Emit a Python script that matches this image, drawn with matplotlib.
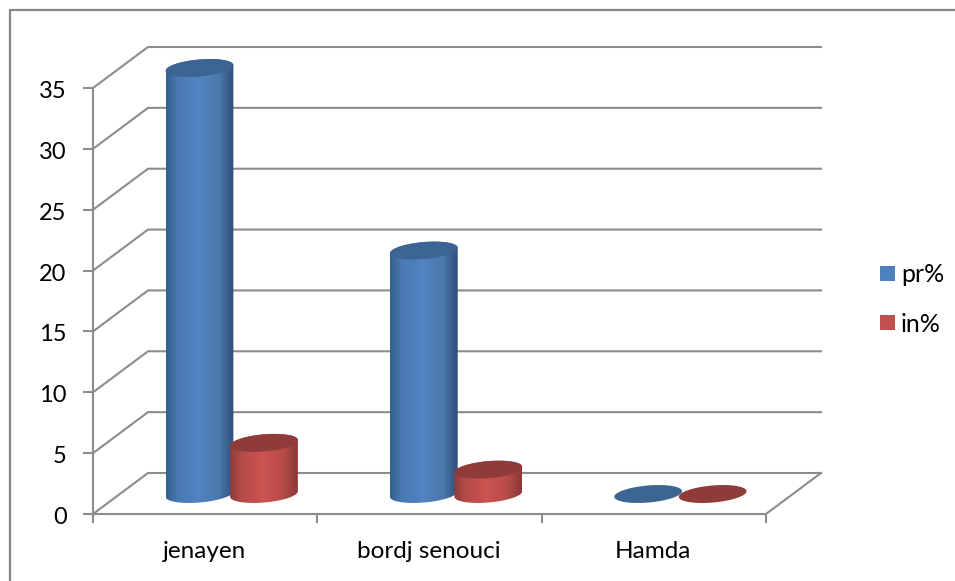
import numpy as np
import matplotlib
matplotlib.use("Agg")
import matplotlib.pyplot as plt
from matplotlib.patches import Polygon, Rectangle

plt.rcParams['font.family'] = ['Lato', 'DejaVu Sans']

categories = ["jenayen", "bordj senouci", "Hamda"]
pr_values = [35, 20, 0]
in_values = [4.2, 2, 0]
y_ticks = [0, 5, 10, 15, 20, 25, 30, 35]
legend_labels = ["pr%", "in%"]

BLUE = ['#35608f', '#4a79b2', '#5184c1', '#4a79ad', '#2d5078']
BLUE_TOP = '#3c6593'
RED = ['#8e3c3a', '#b44b48', '#cc5451', '#b84c49', '#8a3937']
RED_TOP = '#8f3b39'
GRID = '#8c8c8c'
TEXT = '#000000'

# floor corner and depth offset of the 3D box, in pixels
X0, Y0 = 93, 514
DX, DY = 55, -41
BOX_W = 673
PX_PER_UNIT = 426 / 35
BASE_Y = 494


def val_y(v):
    return Y0 - v * PX_PER_UNIT


def ellipse(cx, cy, a=34, b=8.5, tilt=5, n=120):
    t = np.linspace(0, 2 * np.pi, n, endpoint=False)
    th = np.radians(tilt)
    x = cx + a * np.cos(t) * np.cos(th) - b * np.sin(t) * np.sin(th)
    y = cy - a * np.cos(t) * np.sin(th) - b * np.sin(t) * np.cos(th)
    return np.column_stack([x, y])


def cylinder(ax, cx, value, side_colors, top_color, z):
    height = value * PX_PER_UNIT
    bottom = ellipse(cx, BASE_Y)
    top = ellipse(cx, BASE_Y - height)

    if height > 0:
        # body outline: lower half of the base, upper half of the cap
        i_l, i_r = bottom[:, 0].argmin(), bottom[:, 0].argmax()
        idx = np.arange(len(bottom))
        lower = bottom[np.roll(idx, -i_l)][: (i_r - i_l) % len(bottom) + 1]
        upper = top[np.roll(idx, -i_r)][: (i_l - i_r) % len(top) + 1]
        outline = np.vstack([lower, upper])
        body = Polygon(outline, closed=True, fc='none', ec='none', zorder=z)
        ax.add_patch(body)

        stops = [0, 0.17, 0.47, 0.78, 1]
        cmap = matplotlib.colors.LinearSegmentedColormap.from_list('side', list(zip(stops, side_colors)))
        x_lo, x_hi = outline[:, 0].min(), outline[:, 0].max()
        y_lo, y_hi = outline[:, 1].min(), outline[:, 1].max()
        im = ax.imshow(np.linspace(0, 1, 128)[None, :], cmap=cmap, aspect='auto',
                       extent=(x_lo, x_hi, y_hi, y_lo), zorder=z, interpolation='bilinear')
        im.set_clip_path(body)

    ax.add_patch(Polygon(top, closed=True, fc=top_color, ec='none', zorder=z + 0.1))


fig = plt.figure(figsize=(9.55, 5.81), dpi=100, facecolor='white')
ax = fig.add_axes([0, 0, 1, 1])

# chart frame, only top and left sit inside the image
ax.plot([9.5, 9.5, 955], [581, 10, 10], color='#868686', lw=1.6, zorder=1)

# gridlines on the back wall and the side wall
for v in y_ticks:
    y = val_y(v)
    ax.plot([X0 - 9, X0], [y, y], color=GRID, lw=1.5, zorder=2)
    ax.plot([X0, X0 + DX, X0 + DX + BOX_W], [y, y + DY, y + DY], color=GRID, lw=1.5, zorder=2)
    ax.text(66.5, y + 1.5, str(v), fontsize=17, color=TEXT, ha='right', va='center_baseline')
ax.plot([X0, X0], [val_y(0), val_y(35)], color=GRID, lw=1.5, zorder=2)

# floor edges and category ticks
ax.plot([X0, X0 + BOX_W, X0 + BOX_W + DX], [Y0, Y0, Y0 + DY], color=GRID, lw=1.5, zorder=2)
step = BOX_W / len(categories)
for i in range(len(categories) + 1):
    x = X0 + i * step
    ax.plot([x, x], [Y0, Y0 + 8], color=GRID, lw=1.5, zorder=2)

for i, name in enumerate(categories):
    ax.text(X0 + (i + 0.5) * step - 0.5, 550, name, fontsize=17.5, color=TEXT,
            ha='center', va='center_baseline')
    c = 199.5 + i * step
    cylinder(ax, c, pr_values[i], BLUE, BLUE_TOP, 3 + i)
    cylinder(ax, c + 64.5, in_values[i], RED, RED_TOP, 3.5 + i)

# legend
for label, color, y in zip(legend_labels, [BLUE[2], RED[2]], [273.5, 322.5]):
    ax.add_patch(Rectangle((880, y - 7.5), 15, 15, fc='#4f81bd' if label == 'pr%' else '#c0504d', ec='none', zorder=3))
    ax.text(901, y - 0.5, label, fontsize=18, color=TEXT, ha='left', va='center_baseline')

ax.set_xlim(0, 955)
ax.set_ylim(581, 0)
ax.axis('off')

fig.savefig('out.png', dpi=100, facecolor='white')
